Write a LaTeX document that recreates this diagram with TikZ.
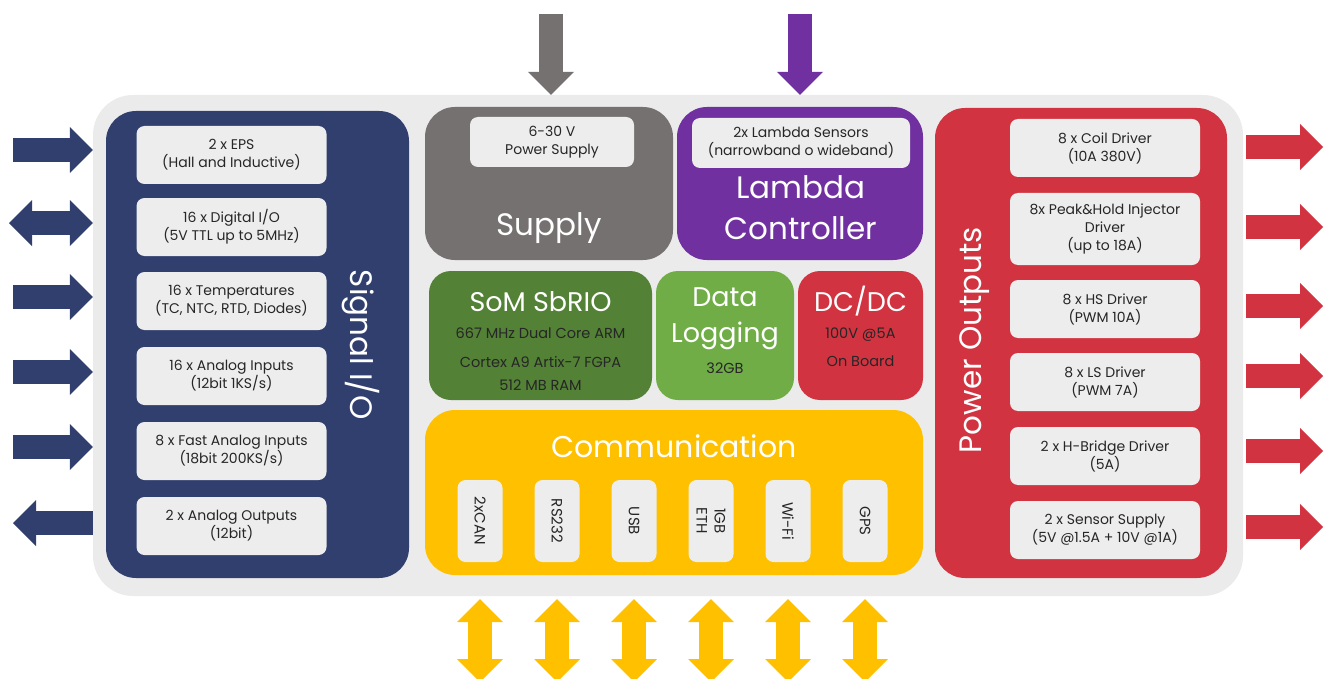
\documentclass[tikz,border=0pt]{standalone}
\usepackage{fontspec}
\setmainfont{Poppins}
\usetikzlibrary{arrows.meta}

\definecolor{boardgray}{HTML}{EBEBEB}
\definecolor{itemgray}{HTML}{EDEDED}
\definecolor{sionavy}{HTML}{313F6F}
\definecolor{supgray}{HTML}{767171}
\definecolor{lampurple}{HTML}{7030A0}
\definecolor{somgreen}{HTML}{538135}
\definecolor{loggreen}{HTML}{70AD47}
\definecolor{pwrred}{HTML}{D13440}
\definecolor{comyellow}{HTML}{FFC000}
\definecolor{inktext}{HTML}{262626}

\tikzset{
  panel/.style={rounded corners=30pt, inner sep=0pt},
  item/.style={fill=itemgray, rounded corners=8pt, inner sep=0pt, align=center,
    text=inktext, font=\fontsize{14}{18}\selectfont},
  port/.style={item, minimum width=82pt, minimum height=45pt, rotate=-90,
    font=\fontsize{15}{18}\selectfont},
  bigtitle/.style={text=white, align=center, font=\fontsize{31}{41}\selectfont},
  midtitle/.style={text=white, align=center, font=\fontsize{27}{36}\selectfont},
  smalltext/.style={text=inktext, align=center, font=\fontsize{14.5}{23}\selectfont},
  fat/.style={line width=24pt, -{Triangle[length=23pt,width=46pt,line width=0pt]}},
  fatboth/.style={line width=24pt,
    {Triangle[length=23pt,width=46pt,line width=0pt]}-{Triangle[length=23pt,width=46pt,line width=0pt]}},
}

\begin{document}
\begin{tikzpicture}[x=1pt,y=-1pt]
    \useasboundingbox (0,0) rectangle (1324,679);
    % board and the big blocks on it
    \node at (668,345.5) [panel,rounded corners=40pt,fill=boardgray,minimum width=1150pt,minimum height=501pt] (board) {};
    \node at (257.5,344.5) [panel,fill=sionavy,minimum width=303pt,minimum height=467pt] (sio) {};
    \node at (549,183.5) [panel,fill=supgray,minimum width=248pt,minimum height=153pt] (supply) {};
    \node at (800,183.5) [panel,fill=lampurple,minimum width=246pt,minimum height=153pt] (lambda) {};
    \node at (540.5,335.5) [panel,rounded corners=22pt,fill=somgreen,minimum width=223pt,minimum height=129pt] (som) {};
    \node at (725,335.5) [panel,rounded corners=22pt,fill=loggreen,minimum width=138pt,minimum height=129pt] (logging) {};
    \node at (860.5,335.5) [panel,rounded corners=22pt,fill=pwrred,minimum width=125pt,minimum height=129pt] (dcdc) {};
    \node at (674,492.5) [panel,fill=comyellow,minimum width=498pt,minimum height=165pt] (comm) {};
    \node at (1081,343) [panel,fill=pwrred,minimum width=292pt,minimum height=470pt] (pwr) {};

    % signal I/O
    \node at (231.5,155) [item,minimum width=190pt,minimum height=58pt] (eps) {2 x EPS\\(Hall and Inductive)};
    \node at (231.5,227) [item,minimum width=190pt,minimum height=58pt] (dio) {16 x Digital I/O\\(5V TTL up to 5MHz)};
    \node at (231.5,301) [item,minimum width=190pt,minimum height=58pt] (temp) {16 x Temperatures\\(TC, NTC, RTD, Diodes)};
    \node at (231.5,376) [item,minimum width=190pt,minimum height=58pt] (ain) {16 x Analog Inputs\\(12bit 1KS/s)};
    \node at (231.5,451) [item,minimum width=190pt,minimum height=58pt] (fain) {8 x Fast Analog Inputs\\(18bit 200KS/s)};
    \node at (231.5,526) [item,minimum width=190pt,minimum height=58pt] (aout) {2 x Analog Outputs\\(12bit)};
    \node at (361,345) [bigtitle,rotate=-90] (siolbl) {Signal I/O};

    % supply and lambda
    \node at (552,142) [item,minimum width=164pt,minimum height=50pt] (vsup) {6-30 V\\Power Supply};
    \node at (549,228) [bigtitle] (supplylbl) {Supply};
    \node at (801,143) [item,minimum width=218pt,minimum height=50pt] (lsens) {2x Lambda Sensors\\(narrowband o wideband)};
    \node at (801,208) [bigtitle] (lambdalbl) {Lambda\\Controller};

    % som, logging, dc/dc
    \node at (540.5,302) [midtitle] (somlbl) {SoM SbRIO};
    \node at (540.5,333) [smalltext] (somcpu) {667 MHz Dual Core ARM};
    \node at (540.5,373.5) [smalltext] (somfpga) {Cortex A9 Artix-7 FGPA\\512 MB RAM};
    \node at (725,319) [midtitle] (loglbl) {Data\\Logging};
    \node at (725,368) [smalltext] (logsize) {32GB};
    \node at (860.5,301) [midtitle] (dclbl) {DC/DC};
    \node at (860.5,347) [smalltext,font=\fontsize{14.5}{28}\selectfont] (dcspec) {100V @5A\\On Board};

    % communication
    \node at (674,446) [bigtitle,font=\fontsize{30}{36}\selectfont] (commlbl) {Communication};
    \node at (480,521) [port] (can) {2xCAN};
    \node at (557,521) [port] (rs) {RS232};
    \node at (634,521) [port] (usb) {USB};
    \node at (711,521) [port] (eth) {1GB\\ETH};
    \node at (788,521) [port] (wifi) {Wi-Fi};
    \node at (865,521) [port] (gps) {GPS};

    % power outputs
    \node at (1105,148) [item,minimum width=190pt,minimum height=58pt] (coil) {8 x Coil Driver\\(10A 380V)};
    \node at (1105,229) [item,minimum width=190pt,minimum height=72pt] (inj) {8x Peak\&Hold Injector\\Driver\\(up to 18A)};
    \node at (1105,309) [item,minimum width=190pt,minimum height=58pt] (hs) {8 x HS Driver\\(PWM 10A)};
    \node at (1105,382) [item,minimum width=190pt,minimum height=58pt] (ls) {8 x LS Driver\\(PWM 7A)};
    \node at (1105,456) [item,minimum width=190pt,minimum height=58pt] (hb) {2 x H-Bridge Driver\\(5A)};
    \node at (1105,530) [item,minimum width=190pt,minimum height=58pt] (ssup) {2 x Sensor Supply\\(5V @1.5A + 10V @1A)};
    \node at (975,340) [bigtitle,rotate=90] (pwrlbl) {Power Outputs};

    % arrows on the left
    \coordinate (epsend) at (13,150);
    \coordinate (dioend) at (9,223);
    \coordinate (tempend) at (13,297);
    \coordinate (ainend) at (13,372);
    \coordinate (fainend) at (13,447);
    \coordinate (aoutend) at (13,523);
    \draw[fat,sionavy] (epsend) -- (epsend -| board.west);
    \draw[fatboth,sionavy] (dioend) -- (dioend -| board.west);
    \draw[fat,sionavy] (tempend) -- (tempend -| board.west);
    \draw[fat,sionavy] (ainend) -- (ainend -| board.west);
    \draw[fat,sionavy] (fainend) -- (fainend -| board.west);
    \draw[fat,sionavy] (aoutend -| board.west) -- (aoutend);

    % arrows on top
    \coordinate (vinend) at (551,14);
    \coordinate (lamend) at (800,14);
    \draw[fat,supgray] (vinend) -- (vinend |- board.north);
    \draw[fat,lampurple] (lamend) -- (lamend |- board.north);

    % arrows on the right
    \coordinate (coilend) at (1323,147);
    \coordinate (injend) at (1323,227);
    \coordinate (hsend) at (1323,306);
    \coordinate (lsend) at (1323,376);
    \coordinate (hbend) at (1323,451);
    \coordinate (ssupend) at (1323,527);
    \draw[fat,pwrred,shorten <=3pt] (coilend -| board.east) -- (coilend);
    \draw[fat,pwrred,shorten <=3pt] (injend -| board.east) -- (injend);
    \draw[fat,pwrred,shorten <=3pt] (hsend -| board.east) -- (hsend);
    \draw[fat,pwrred,shorten <=3pt] (lsend -| board.east) -- (lsend);
    \draw[fat,pwrred,shorten <=3pt] (hbend -| board.east) -- (hbend);
    \draw[fat,pwrred,shorten <=3pt] (ssupend -| board.east) -- (ssupend);

    % arrows below
    \coordinate (canend) at (480,682);
    \coordinate (rsend) at (557,682);
    \coordinate (usbend) at (634,682);
    \coordinate (ethend) at (711,682);
    \coordinate (wifiend) at (788,682);
    \coordinate (gpsend) at (865,682);
    \draw[fatboth,comyellow,shorten <=3pt] (canend |- board.south) -- (canend);
    \draw[fatboth,comyellow,shorten <=3pt] (rsend |- board.south) -- (rsend);
    \draw[fatboth,comyellow,shorten <=3pt] (usbend |- board.south) -- (usbend);
    \draw[fatboth,comyellow,shorten <=3pt] (ethend |- board.south) -- (ethend);
    \draw[fatboth,comyellow,shorten <=3pt] (wifiend |- board.south) -- (wifiend);
    \draw[fatboth,comyellow,shorten <=3pt] (gpsend |- board.south) -- (gpsend);
\end{tikzpicture}
\end{document}
